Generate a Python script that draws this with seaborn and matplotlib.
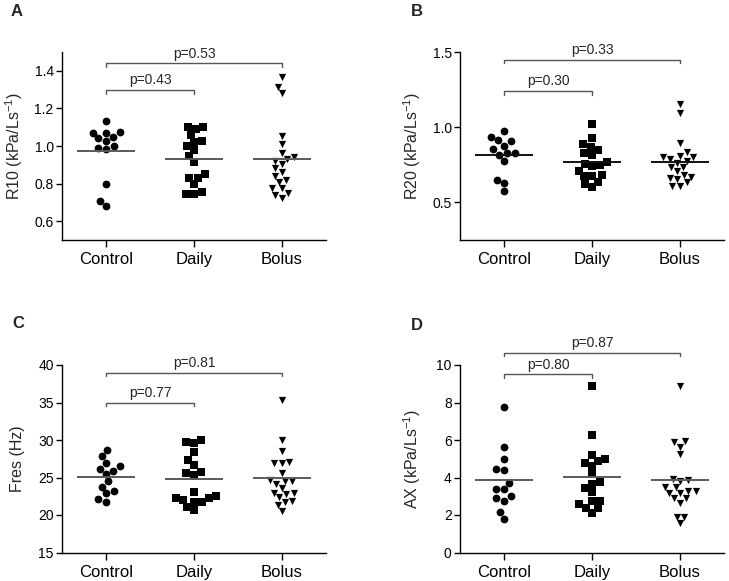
import numpy as np
import pandas as pd
import matplotlib
matplotlib.use("Agg")
import matplotlib.pyplot as plt
import seaborn as sns

# ---------------- data ----------------
groups = ["Control", "Daily", "Bolus"]
group_markers = ["o", "s", "v"]

r10_control = [1.131, 1.073, 1.071, 1.041, 1.028, 1.050, 1.071, 0.998, 0.982, 0.989, 0.798, 0.709, 0.681]
r10_daily = [1.099, 1.089, 1.099, 1.023, 1.028, 1.059, 0.998, 0.980, 0.947, 0.917, 0.831, 0.849,
             0.830, 0.798, 0.757, 0.746, 0.746]
r10_bolus = [1.365, 1.316, 1.284, 1.053, 1.011, 0.961, 0.943, 0.922, 0.932, 0.881, 0.903, 0.863,
             0.842, 0.819, 0.810, 0.775, 0.775, 0.748, 0.741, 0.722]

r20_control = [0.978, 0.916, 0.938, 0.907, 0.878, 0.856, 0.830, 0.818, 0.827, 0.778, 0.651, 0.627, 0.574]
r20_daily = [1.018, 0.930, 0.889, 0.867, 0.850, 0.828, 0.818, 0.758, 0.740, 0.746, 0.768, 0.708,
             0.673, 0.673, 0.680, 0.635, 0.605, 0.623]
r20_bolus = [1.156, 1.096, 0.896, 0.834, 0.810, 0.800, 0.789, 0.800, 0.774, 0.763, 0.734, 0.734,
             0.685, 0.706, 0.672, 0.661, 0.657, 0.634, 0.612, 0.612]

fres_control = [28.7, 27.9, 27.0, 26.5, 26.2, 25.9, 25.5, 24.5, 23.8, 22.9, 23.2, 21.8, 22.2]
fres_daily = [29.7, 29.6, 30.0, 28.4, 27.3, 26.7, 25.8, 25.4, 25.6, 22.6, 22.3, 21.8, 22.0, 22.3,
              23.1, 21.8, 21.1, 20.7]
fres_bolus = [35.3, 30.0, 28.5, 26.9, 26.9, 27.1, 25.6, 24.7, 24.5, 24.2, 24.6, 23.6, 22.8, 23.0,
              23.0, 22.4, 21.9, 21.7, 21.3, 20.5]

ax_control = [7.75, 5.62, 4.98, 4.48, 4.41, 3.73, 3.39, 3.39, 2.91, 3.02, 2.77, 2.18, 1.81]
ax_daily = [8.90, 6.27, 5.22, 4.89, 4.98, 4.80, 4.62, 4.18, 3.66, 3.77, 3.43, 3.25, 2.75, 2.75,
            2.58, 2.36, 2.36, 2.10]
ax_bolus = [8.88, 5.95, 5.90, 5.65, 5.26, 3.87, 3.84, 3.91, 3.48, 3.29, 3.16, 3.20, 3.27, 3.52,
            2.90, 2.66, 2.90, 1.92, 1.92, 1.57]

panel_letters = ["A", "B", "C", "D"]
ylabels = ["R10 (kPa/Ls$^{\\mathregular{-1}}$)", "R20 (kPa/Ls$^{\\mathregular{-1}}$)", "Fres (Hz)",
           "AX (kPa/Ls$^{\\mathregular{-1}}$)"]
ylims = [(0.5, 1.5), (0.25, 1.5), (15, 40), (0, 10)]
yticks = [[0.6, 0.8, 1.0, 1.2, 1.4], [0.5, 1.0, 1.5], [15, 20, 25, 30, 35, 40], [0, 2, 4, 6, 8, 10]]
ytick_labels = [["0.6", "0.8", "1.0", "1.2", "1.4"], ["0.5", "1.0", "1.5"],
                ["15", "20", "25", "30", "35", "40"], ["0", "2", "4", "6", "8", "10"]]
# brackets: (target group index, height, label) -- all start at Control
brackets = [
    [(1, 1.298, "p=0.43"), (2, 1.44, "p=0.53")],
    [(1, 1.24, "p=0.30"), (2, 1.449, "p=0.33")],
    [(1, 35.0, "p=0.77"), (2, 39.0, "p=0.81")],
    [(1, 9.5, "p=0.80"), (2, 10.66, "p=0.87")],
]
panel_data = [
    (r10_control, r10_daily, r10_bolus),
    (r20_control, r20_daily, r20_bolus),
    (fres_control, fres_daily, fres_bolus),
    (ax_control, ax_daily, ax_bolus),
]
mean_colors = ["#5a5a5a", "#111111", "#5a5a5a", "#5a5a5a"]
marker_sizes = {"o": 5.6, "s": 5.4, "v": 5.2}

# ---------------- style ----------------
sns.set_style("ticks")
plt.rcParams["font.family"] = ["Liberation Sans", "DejaVu Sans"]
plt.rcParams["mathtext.fontset"] = "custom"
plt.rcParams["mathtext.rm"] = "Liberation Sans"
plt.rcParams["mathtext.it"] = "Liberation Sans:italic"
plt.rcParams["mathtext.bf"] = "Liberation Sans:bold"

W, H = 729, 581
fig = plt.figure(figsize=(W / 100, H / 100), dpi=100)

# axes rectangles in pixel coords (left, top, right, bottom)
rects_px = [(62, 52, 326, 240), (460, 52, 724, 240), (62, 365, 326, 552.5), (460, 365, 724, 552.5)]
letter_px = [(16.7, 11.7), (416.7, 11.7), (18.3, 323.3), (416.7, 325)]

for k in range(4):
    l, t, r, b = rects_px[k]
    ax = fig.add_axes([l / W, 1 - b / H, (r - l) / W, (b - t) / H])
    data = panel_data[k]
    df = pd.DataFrame({
        "group": np.concatenate([[g] * len(v) for g, v in zip(groups, data)]),
        "value": np.concatenate([np.asarray(v, float) for v in data]),
    })
    for g, m in zip(groups, group_markers):
        sub = df[df["group"] == g]
        sns.swarmplot(data=sub, x="group", y="value", order=groups, marker=m,
                      color="black", size=marker_sizes[m], linewidth=0, ax=ax,
                      zorder=3, warn_thresh=1)
    # mean lines
    means = df.groupby("group")["value"].mean().reindex(groups)
    for i, mval in enumerate(means.values):
        ax.hlines(mval, i - 0.33, i + 0.33, color=mean_colors[k], lw=1.4, zorder=4)
    ax.set_xlim(-0.5, 2.5)
    ax.set_ylim(*ylims[k])
    ax.set_yticks(yticks[k])
    ax.set_yticklabels(ytick_labels[k], fontsize=10)
    ax.set_xticks(range(3))
    ax.set_xticklabels(groups, fontsize=12)
    ax.set_xlabel("")
    ax.set_ylabel(ylabels[k], fontsize=11.5)
    ax.yaxis.set_label_coords(-0.14, 0.5)
    ax.tick_params(axis="y", length=4, width=1, pad=2, colors="black")
    ax.tick_params(axis="x", length=5, width=1, pad=4, colors="black")
    sns.despine(ax=ax)
    for s in ["left", "bottom"]:
        ax.spines[s].set_linewidth(1.0)
        ax.spines[s].set_color("black")
    # significance brackets
    yr = ylims[k][1] - ylims[k][0]
    d = 0.02 * yr
    for j, h, lab in brackets[k]:
        ax.plot([0, 0, j, j], [h - d, h, h, h - d], color="#555555", lw=1.0,
                clip_on=False, zorder=5)
        ax.annotate(lab, xy=(j / 2, h), xytext=(0, 2), textcoords="offset points",
                    ha="center", va="bottom", fontsize=10, annotation_clip=False)
    fig.text(letter_px[k][0] / W, 1 - letter_px[k][1] / H, panel_letters[k],
             fontsize=12, fontweight="bold", ha="center", va="center")

fig.savefig("out.png", dpi=100)
